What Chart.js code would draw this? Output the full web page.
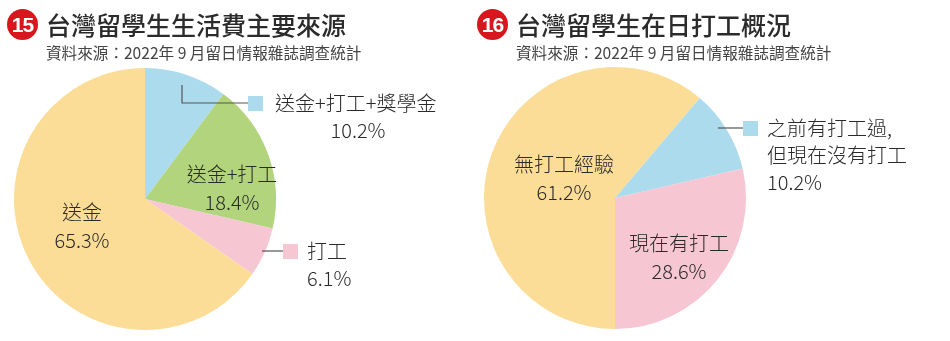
<!DOCTYPE html>
<html>
<head>
<meta charset="utf-8">
<script src="https://cdn.jsdelivr.net/npm/chart.js@4.4.1/dist/chart.umd.min.js"></script>
<style>
  body { margin:0; background:#fff; width:950px; height:341px; overflow:hidden;
         font-family:"Noto Sans CJK TC","Noto Sans",sans-serif; }
  .panel { position:absolute; top:0; height:341px; }
  .panel canvas { position:absolute; left:0; top:0; }
  .num { position:absolute; left:7px; top:9px; width:31px; height:31px; border-radius:50%;
         background:#d7161e; color:#fff; font:bold 21px "Liberation Sans",Arial,sans-serif;
         text-align:center; line-height:31px; letter-spacing:-1px; }
  .title { position:absolute; left:46px; top:6px; font-size:25px; font-weight:500; color:#2b2b2b;
           white-space:nowrap; }
  .sub { position:absolute; left:46px; top:41px; font-size:15.6px; color:#444; white-space:nowrap; }
</style>
</head>
<body>

<div class="panel" style="left:0;width:470px">
  <canvas id="pie15"></canvas>
  <div class="num">15</div>
  <div class="title">台灣留學生生活費主要來源</div>
  <div class="sub">資料來源：2022年 9 月留日情報雜誌調查統計</div>
</div>

<div class="panel" style="left:470px;width:480px">
  <canvas id="pie16"></canvas>
  <div class="num">16</div>
  <div class="title">台灣留學生在日打工概況</div>
  <div class="sub">資料來源：2022年 9 月留日情報雜誌調查統計</div>
</div>

<script>
// 生活費主要來源
const srcLabels = ["送金+打工+獎學金", "送金+打工", "打工", "送金"];
const srcValues = [10.2, 18.4, 6.1, 65.3];
const srcColors = ["#acdbee", "#b1d47d", "#f6c6d3", "#fcdd98"];

// 在日打工概況
const jobLabels = ["無打工經驗", "之前有打工過,|但現在沒有打工", "現在有打工"];
const jobValues = [61.2, 10.2, 28.6];
const jobColors = ["#fcdd98", "#acdbee", "#f6c6d3"];

const FONT = '"Noto Sans CJK TC","Noto Sans",sans-serif';

// 標籤：dx, dy 以圓心為準；box 表示外側標籤（色塊＋引線）
const srcLabelPos = [
  { box:true, line:[[37,-114],[37,-96],[103,-96]], sq:[103,-103], tx:130, ty:-96, align:'left', pctCenter:213 },
  { dx:87, dy:-11 },
  { box:true, line:[[117,52],[138,52]], sq:[138,45], tx:162, ty:52, align:'left' },
  { dx:-63, dy:27 }
];
const jobLabelPos = [
  { dx:-51, dy:-20 },
  { box:true, line:[[103,-70],[128,-70]], sq:[128,-77], tx:152, ty:-70, align:'left' },
  { dx:64, dy:59 }
];

const labelPlugin = {
  id: 'pieLabels',
  afterDatasetsDraw(chart, args, opts) {
    const ctx = chart.ctx;
    const arc = chart.getDatasetMeta(0).data[0];
    const cx = arc.x, cy = arc.y;
    const labels = chart.data.labels;
    const values = chart.data.datasets[0].data;
    const colors = chart.data.datasets[0].backgroundColor;
    ctx.save();
    ctx.font = '300 20px ' + FONT;
    ctx.fillStyle = '#2a2a2a';
    ctx.textBaseline = 'middle';
    opts.pos.forEach((p, i) => {
      const lines = labels[i].split('|');
      lines.push(values[i].toFixed(1) + '%');
      if (p.box) {
        ctx.strokeStyle = '#555';
        ctx.lineWidth = 1.2;
        ctx.beginPath();
        p.line.forEach((pt, k) => {
          if (k === 0) ctx.moveTo(cx + pt[0], cy + pt[1]);
          else ctx.lineTo(cx + pt[0], cy + pt[1]);
        });
        ctx.stroke();
        ctx.fillStyle = colors[i];
        ctx.fillRect(cx + p.sq[0], cy + p.sq[1], 15, 15);
        ctx.fillStyle = '#2a2a2a';
        ctx.textAlign = 'left';
        lines.forEach((t, k) => {
          let x = cx + p.tx;
          if (k === lines.length - 1 && p.pctCenter) {
            ctx.textAlign = 'center';
            x = cx + p.pctCenter;
          }
          ctx.fillText(t, x, cy + p.ty + k * 27);
        });
      } else {
        ctx.textAlign = 'center';
        lines.forEach((t, k) => {
          ctx.fillText(t, cx + p.dx, cy + p.dy + (k - (lines.length - 1) / 2) * 28);
        });
      }
    });
    ctx.restore();
  }
};

function makePie(id, w, labels, values, colors, rotation, pos, pad) {
  const el = document.getElementById(id);
  el.width = w; el.height = 341;
  return new Chart(el, {
    type: 'pie',
    data: {
      labels: labels,
      datasets: [{ data: values, backgroundColor: colors, borderWidth: 0 }]
    },
    options: {
      responsive: false,
      animation: false,
      rotation: rotation,
      layout: { padding: pad },
      plugins: {
        legend: { display: false },
        tooltip: { enabled: false },
        pieLabels: { pos: pos }
      }
    },
    plugins: [labelPlugin]
  });
}

makePie('pie15', 470, srcLabels, srcValues, srcColors, 0, srcLabelPos,
        { left: 14, right: 194, top: 68, bottom: 11 });
makePie('pie16', 480, jobLabels, jobValues, jobColors, 180, jobLabelPos,
        { left: 14, right: 204, top: 67, bottom: 12 });
</script>
</body>
</html>
